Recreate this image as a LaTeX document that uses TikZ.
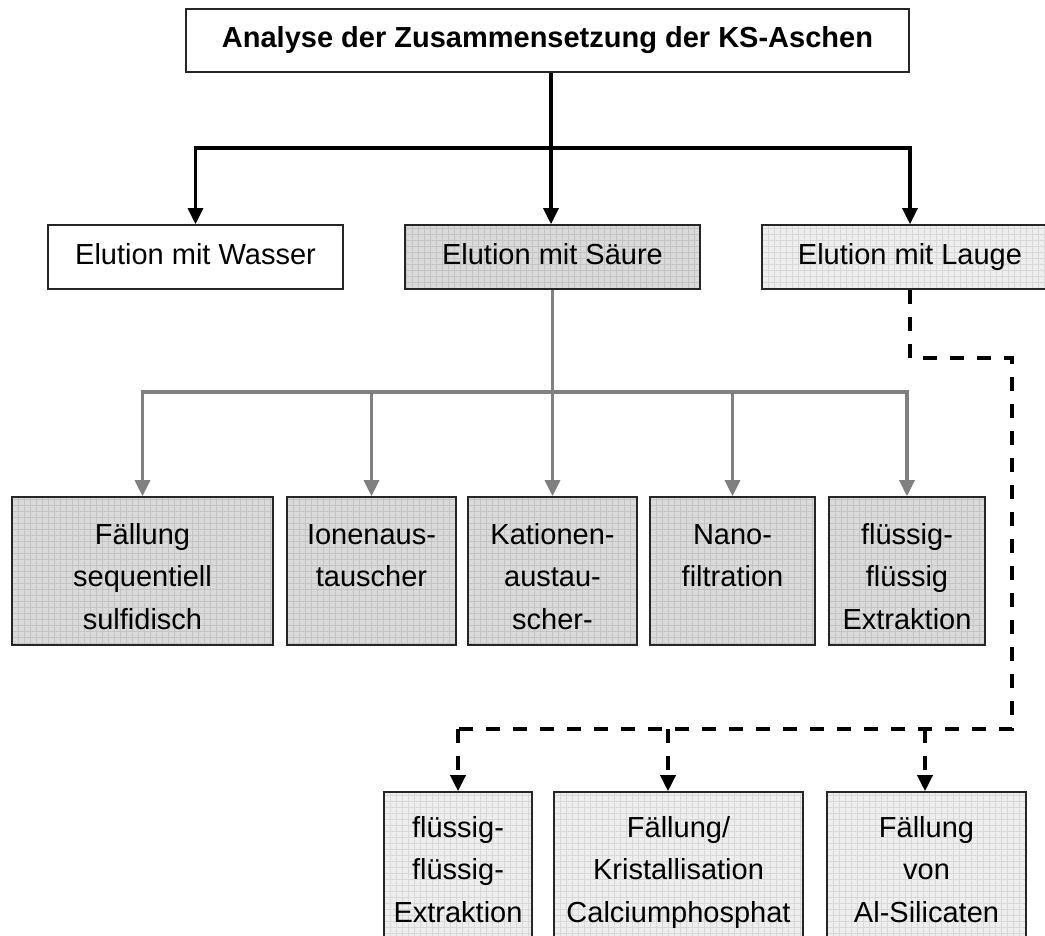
\documentclass[tikz,border=0pt]{standalone}
\usepackage{fontspec}
\setmainfont{Liberation Sans}
\usetikzlibrary{arrows.meta}
\definecolor{boxgray}{HTML}{DADADA}
\definecolor{gridgray}{HTML}{C4C4C4}
\definecolor{boxlight}{HTML}{EEEEEE}
\definecolor{gridlight}{HTML}{D8D8D8}
\definecolor{linegray}{HTML}{808080}
\newcommand\boxtext[4]{\parbox[c][#2][t]{#1}{\centering\rule{0pt}{#3}#4}}
\begin{document}
\begin{tikzpicture}[x=1pt,y=-1pt,
  every node/.style={font=\fontsize{29pt}{42.5pt}\selectfont},
  box/.style={draw=black!85, line width=1.6pt, inner sep=0pt, rectangle},
  oneline/.style={text height=21pt, text depth=6pt},
  shadeA/.style={fill=boxgray, path picture={\draw[gridgray,line width=0.5pt] (path picture bounding box.south west) grid[step=6pt] (path picture bounding box.north east);}},
  shadeB/.style={fill=boxlight, path picture={\draw[gridlight,line width=0.5pt] (path picture bounding box.south west) grid[step=6pt] (path picture bounding box.north east);}},
  solidarrow/.style={line width=3.2pt, -{Triangle[width=15pt,length=16pt]}},
  grayline/.style={draw=linegray, line width=3.2pt},
  grayarrow/.style={draw=linegray, line width=3.2pt, -{Triangle[width=15pt,length=16pt]}},
  dashline/.style={line width=3.5pt, dash pattern=on 14pt off 13pt},
  dasharrow/.style={line width=3.5pt, dash pattern=on 14pt off 13pt, -{Triangle[width=15pt,length=16pt]}},
]
\useasboundingbox (0,0) rectangle (1045,936);
\clip (0,0) rectangle (1045,936);

% top row
\node[box, oneline, minimum width=723pt, minimum height=63pt] (top) at (547.5,40.5) {\bfseries Analyse der Zusammensetzung der KS-Aschen};
\node[box, oneline, minimum width=295pt, minimum height=64pt] (wasser) at (195.5,257) {Elution mit Wasser};
\node[box, oneline, shadeA, minimum width=295pt, minimum height=64pt] (saeure) at (552.5,257) {Elution mit Säure};
\node[box, oneline, shadeB, minimum width=296pt, minimum height=64pt] (lauge) at (910,257) {Elution mit Lauge};

% middle row
\node[box, shadeA] (m1) at (142.5,571) {\boxtext{261pt}{148pt}{47pt}{Fällung\\sequentiell\\sulfidisch}};
\node[box, shadeA] (m2) at (371.5,571) {\boxtext{169pt}{148pt}{47pt}{Ionenaus-\\tauscher}};
\node[box, shadeA] (m3) at (552.5,571) {\boxtext{169pt}{148pt}{47pt}{Kationen-\\austau-\\scher-}};
\node[box, shadeA] (m4) at (732.5,571) {\boxtext{165pt}{148pt}{47pt}{Nano-\\filtration}};
\node[box, shadeA] (m5) at (907,571) {\boxtext{156pt}{148pt}{47pt}{flüssig-\\flüssig\\Extraktion}};

% bottom row
\node[box, shadeB] (b1) at (458,867) {\boxtext{148pt}{150pt}{45pt}{flüssig-\\flüssig-\\Extraktion}};
\node[box, shadeB] (b2) at (678.5,867) {\boxtext{249pt}{150pt}{45pt}{Fällung/\\Kristallisation\\Calciumphosphat}};
\node[box, shadeB] (b3) at (926.5,867) {\boxtext{199pt}{150pt}{45pt}{Fällung\\von\\Al-Silicaten}};

% solid black connectors
\coordinate (j1) at (551,148);
\draw[solidarrow] (top.south -| j1) -- (j1 |- saeure.north);
\draw[solidarrow] (j1) -| (wasser.north);
\draw[solidarrow] (j1) -| (lauge.north);

% gray connectors
\coordinate (j2) at (552.5,392);
\draw[grayline] (saeure.south) -- (j2);
\foreach \m in {m1,m2,m3,m4,m5}{
  \draw[grayarrow] (j2) -| (\m.north);
}

% dashed connectors
\coordinate (d1) at (910,358);
\coordinate (d2) at (1012,358);
\coordinate (d3) at (1012,729);
\coordinate (d4) at (458,729);
\coordinate (d5) at (668,729);
\coordinate (d6) at (925,729);
\draw[dashline] (lauge.south) -- (d1) -- (d2) -- (d3) -- (d4);
\draw[dasharrow] (d4) -- (b1.north);
\draw[dasharrow] (d5) -- (d5 |- b2.north);
\draw[dasharrow] (d6) -- (d6 |- b3.north);
\end{tikzpicture}
\end{document}
